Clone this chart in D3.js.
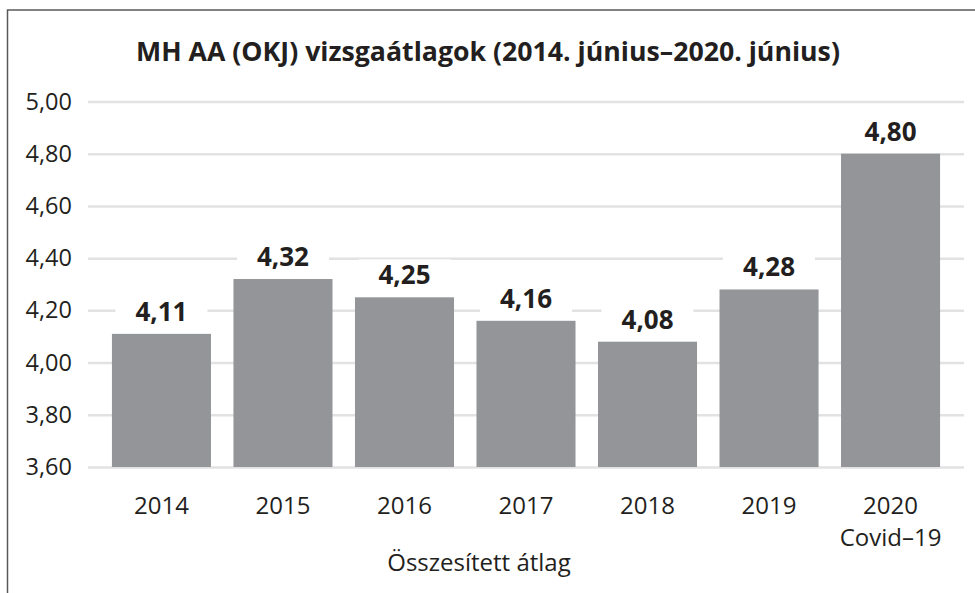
<!DOCTYPE html>
<html>
<head>
<meta charset="utf-8">
<script src="https://cdn.jsdelivr.net/npm/d3@7"></script>
<style>
  body { margin: 0; background: #fff; }
  text { font-family: "Open Sans", "Noto Sans", sans-serif; fill: #231f20; }
</style>
</head>
<body>
<div id="chart"></div>
<script>
// Data
var categories = ["2014", "2015", "2016", "2017", "2018", "2019", "2020"];
var subLabels = ["", "", "", "", "", "", "Covid–19"];
var values = [4.11, 4.32, 4.25, 4.16, 4.08, 4.28, 4.80];
var yTicks = [3.6, 3.8, 4.0, 4.2, 4.4, 4.6, 4.8, 5.0];
var chartTitle = "MH AA (OKJ) vizsgaátlagok (2014. június–2020. június)";
var axisTitle = "Összesített átlag";

var W = 975, H = 593;
var margin = {top: 101.5, right: 11, bottom: 126, left: 88};
var width = W - margin.left - margin.right,
    height = H - margin.top - margin.bottom;

var fmt = function(d) { return d3.format(".2f")(d).replace(".", ","); };

var svg = d3.select("#chart")
  .append("svg")
    .attr("width", W)
    .attr("height", H);

// Outer frame (right and bottom edges run past the picture)
svg.append("rect")
    .attr("x", 7.5)
    .attr("y", 10)
    .attr("width", 1000)
    .attr("height", 700)
    .attr("fill", "none")
    .attr("stroke", "#58595b")
    .attr("stroke-width", 1.5);

svg.append("text")
    .attr("x", 488)
    .attr("y", 61)
    .attr("text-anchor", "middle")
    .style("font-size", "26.7px")
    .style("font-weight", "bold")
    .text(chartTitle);

var g = svg.append("g")
    .attr("transform", "translate(" + margin.left + "," + margin.top + ")");

var x = d3.scaleBand()
    .domain(categories)
    .range([0, width])
    .paddingInner(0.185)
    .paddingOuter(0.197);

var y = d3.scaleLinear()
    .domain([3.6, 5.0])
    .range([height, 0]);

// Gridlines + y labels
var yAxis = g.append("g")
    .call(d3.axisLeft(y).tickValues(yTicks).tickSize(-width).tickPadding(16).tickFormat(fmt));
yAxis.select(".domain").remove();
yAxis.selectAll(".tick line")
    .attr("stroke", "#e2e2e3")
    .attr("stroke-width", 2.5);
yAxis.selectAll(".tick text")
    .style("font-size", "23.5px")
    .style("font-family", "'Open Sans', sans-serif")
    .attr("fill", "#231f20");

// Bars
g.append("g")
  .selectAll("rect")
  .data(values)
  .join("rect")
    .attr("x", function(d, i) { return x(categories[i]); })
    .attr("y", function(d) { return y(d); })
    .attr("width", x.bandwidth())
    .attr("height", function(d) { return height - y(d); })
    .attr("fill", "#939598");

// Value labels with white backing that cuts the gridlines
var lab = g.append("g")
  .selectAll("g")
  .data(values)
  .join("g")
    .attr("transform", function(d, i) {
      return "translate(" + (x(categories[i]) + x.bandwidth() / 2) + "," + (y(d) - 13) + ")";
    });
lab.append("rect")
    .attr("x", -46)
    .attr("y", -25)
    .attr("width", 92)
    .attr("height", 31)
    .attr("fill", "#fff");
lab.append("text")
    .attr("text-anchor", "middle")
    .style("font-size", "26px")
    .style("font-weight", "bold")
    .text(function(d) { return fmt(d); });

// Category labels
var xAxis = g.append("g")
    .attr("transform", "translate(0," + height + ")")
    .call(d3.axisBottom(x).tickSize(0).tickPadding(0).tickFormat(""));
xAxis.select(".domain").remove();
xAxis.selectAll(".tick").each(function(d, i) {
  var t = d3.select(this);
  t.append("text")
      .attr("y", 46.5)
      .attr("text-anchor", "middle")
      .style("font-size", "24px")
      .text(categories[i]);
  if (subLabels[i]) {
    t.append("text")
        .attr("y", 78.5)
        .attr("text-anchor", "middle")
        .style("font-size", "24px")
        .text(subLabels[i]);
  }
});

svg.append("text")
    .attr("x", 479)
    .attr("y", 571)
    .attr("text-anchor", "middle")
    .style("font-size", "24px")
    .text(axisTitle);
</script>
</body>
</html>
